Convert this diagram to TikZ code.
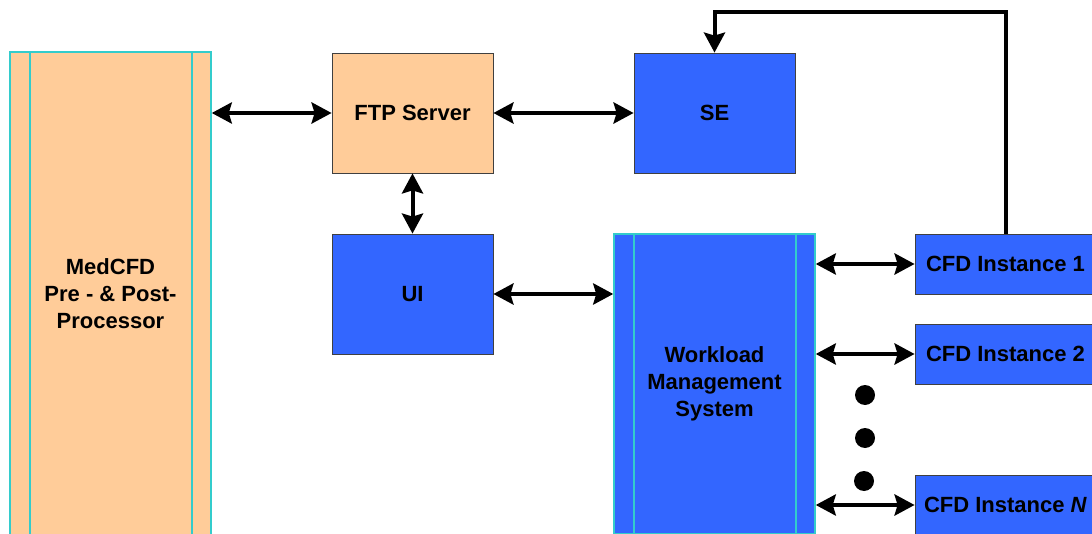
\documentclass[tikz,border=0pt]{standalone}
\usepackage{fontspec}
\setmainfont{Liberation Sans}
\usetikzlibrary{arrows.meta}
\definecolor{peach}{HTML}{FFCC99}
\definecolor{bblue}{HTML}{3366FF}
\definecolor{cyanb}{HTML}{33CCCC}
\begin{document}
\begin{tikzpicture}[x=1pt,y=-1pt,
  lbl/.style={inner sep=0pt, font=\fontsize{22}{27}\selectfont\bfseries, align=center},
  box/.style={lbl, draw=black!75, line width=0.8pt},
  wide/.style={lbl, draw=cyanb, line width=1.5pt},
  inner/.style={draw=cyanb, line width=1.6pt},
  arr/.style={line width=4pt, {Stealth[length=20pt,width=21pt,inset=3pt]}-{Stealth[length=20pt,width=21pt,inset=3pt]}},
  onearr/.style={line width=4pt, -{Stealth[length=20pt,width=21pt,inset=3pt]}},
]
\useasboundingbox (0,0) rectangle (1092,534);
\clip (0,0) rectangle (1092,534);

\node[wide, fill=peach, minimum width=201pt, minimum height=484pt] (med) at (110.5,294) {MedCFD\\Pre - \& Post-\\Processor};
\draw[inner] ([xshift=20.5pt]med.north west) -- ([xshift=20.5pt]med.south west);
\draw[inner] ([xshift=-20pt]med.north east) -- ([xshift=-20pt]med.south east);

\node[box, fill=peach, minimum width=161pt, minimum height=120pt] (ftp) at (412.5,113) {FTP Server};
\node[box, fill=bblue, minimum width=161pt, minimum height=120pt] (se) at (714.5,113) {SE};
\node[box, fill=bblue, minimum width=161pt, minimum height=120pt] (ui) at (412.5,294) {UI};

\node[wide, fill=bblue, minimum width=201pt, minimum height=300pt] (wms) at (714.5,384) {Workload\\Management\\System};
\draw[inner] ([xshift=20.5pt]wms.north west) -- ([xshift=20.5pt]wms.south west);
\draw[inner] ([xshift=-20pt]wms.north east) -- ([xshift=-20pt]wms.south east);

\node[box, fill=bblue, minimum width=181pt, minimum height=60pt] (c1) at (1005.5,264) {CFD Instance 1};
\node[box, fill=bblue, minimum width=181pt, minimum height=60pt] (c2) at (1005.5,354) {CFD Instance 2};
\node[box, fill=bblue, minimum width=181pt, minimum height=60pt] (cn) at (1005.5,505) {CFD Instance \textit{N}};

\draw[arr] (ftp.west -| med.east) -- (ftp.west);
\draw[arr] (ftp.east) -- (se.west);
\draw[arr] (ftp.south) -- (ui.north);
\draw[arr] (ui.east) -- (ui.east -| wms.west);
\draw[arr] (c1.west -| wms.east) -- (c1.west);
\draw[arr] (c2.west -| wms.east) -- (c2.west);
\draw[arr] (cn.west -| wms.east) -- (cn.west);

\coordinate (fb) at (714.5,12);
\draw[onearr] (c1.north) |- (fb) -- (se.north);

\fill (865,395) circle (10pt);
\fill (865,438) circle (10pt);
\fill (864,481) circle (10pt);
\end{tikzpicture}
\end{document}
